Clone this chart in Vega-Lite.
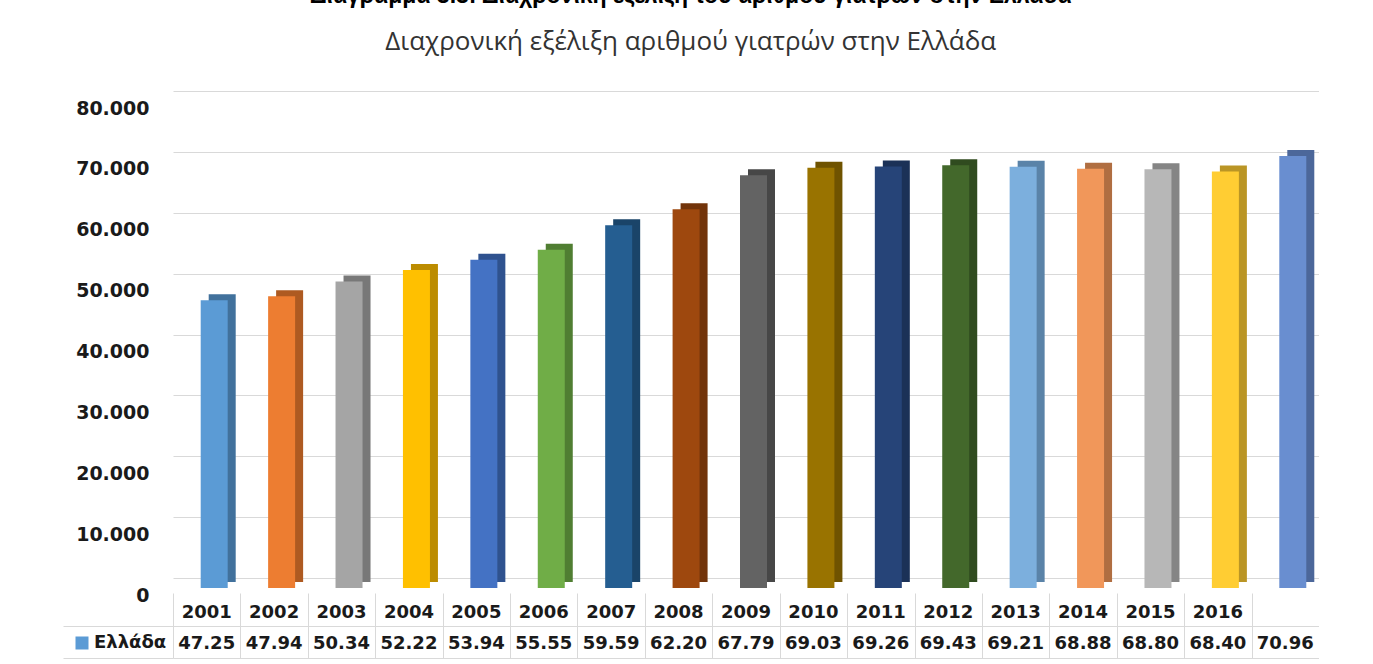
{
  "$schema": "https://vega.github.io/schema/vega-lite/v6.json",
  "padding": {"left": 62, "top": -15, "right": 0, "bottom": 0},
  "background": "white",
  "title": {
    "text": "Διάγραμμα 3.3: Διαχρονική εξέλιξη του αριθμού γιατρών στην Ελλάδα",
    "subtitle": "Διαχρονική εξέλιξη αριθμού γιατρών στην Ελλάδα",
    "font": "Liberation Sans",
    "fontSize": 23,
    "fontWeight": "bold",
    "color": "#000000",
    "subtitleFont": "Open Sans",
    "subtitleFontSize": 26,
    "subtitleColor": "#333333",
    "subtitlePadding": 21,
    "anchor": "middle",
    "offset": 36
  },
  "datasets": {
    "doctors": [
      {"year": "2001", "doctors": 47.25, "series": "Ελλάδα"},
      {"year": "2002", "doctors": 47.94, "series": "Ελλάδα"},
      {"year": "2003", "doctors": 50.34, "series": "Ελλάδα"},
      {"year": "2004", "doctors": 52.22, "series": "Ελλάδα"},
      {"year": "2005", "doctors": 53.94, "series": "Ελλάδα"},
      {"year": "2006", "doctors": 55.55, "series": "Ελλάδα"},
      {"year": "2007", "doctors": 59.59, "series": "Ελλάδα"},
      {"year": "2008", "doctors": 62.20, "series": "Ελλάδα"},
      {"year": "2009", "doctors": 67.79, "series": "Ελλάδα"},
      {"year": "2010", "doctors": 69.03, "series": "Ελλάδα"},
      {"year": "2011", "doctors": 69.26, "series": "Ελλάδα"},
      {"year": "2012", "doctors": 69.43, "series": "Ελλάδα"},
      {"year": "2013", "doctors": 69.21, "series": "Ελλάδα"},
      {"year": "2014", "doctors": 68.88, "series": "Ελλάδα"},
      {"year": "2015", "doctors": 68.80, "series": "Ελλάδα"},
      {"year": "2016", "doctors": 68.40, "series": "Ελλάδα"},
      {"year": "", "doctors": 70.96, "series": "Ελλάδα"}
    ]
  },
  "bounds": "flush",
  "spacing": 15,
  "resolve": {
    "scale": {"x": "independent", "y": "independent", "color": "independent"},
    "legend": {"color": "independent"}
  },
  "vconcat": [
    {
      "width": 1146,
      "height": 487,
      "data": {"name": "doctors"},
      "encoding": {
        "x": {
          "field": "year",
          "type": "nominal",
          "sort": null,
          "scale": {"type": "band", "paddingInner": 0, "paddingOuter": 0},
          "axis": null
        },
        "y": {
          "field": "doctors",
          "type": "quantitative",
          "scale": {"domain": [0, 80]},
          "axis": {
            "values": [0, 10, 20, 30, 40, 50, 60, 70, 80],
            "labelExpr": "datum.value == 0 ? '0' : format(datum.value, '.3f')",
            "title": null,
            "ticks": false,
            "domain": false,
            "grid": true,
            "gridColor": "#D9D9D9",
            "gridWidth": 1,
            "labelFont": "DejaVu Sans",
            "labelFontWeight": "bold",
            "labelFontSize": 19,
            "labelColor": "#1a1a1a",
            "labelPadding": 24,
            "labelOffset": 17,
            "labelFlush": false
          }
        }
      },
      "layer": [
        {
          "mark": {"type": "bar", "width": 27, "xOffset": 15.5, "yOffset": 4, "y2Offset": 4},
          "encoding": {
            "color": {
              "field": "year",
              "type": "nominal",
              "sort": null,
              "legend": null,
              "scale": {
                "domain": ["2001","2002","2003","2004","2005","2006","2007","2008","2009","2010","2011","2012","2013","2014","2015","2016",""],
                "range": ["#41719C","#AE5A21","#787878","#BC8C00","#2F528F","#507E32","#1A4469","#72340A","#474747","#6F5300","#1B3157","#304B1F","#5A83A8","#B06E41","#858585","#BA9525","#4C679A"]
              }
            }
          }
        },
        {
          "mark": {"type": "bar", "width": 27, "xOffset": 7.5, "yOffset": 10, "y2Offset": 10},
          "encoding": {
            "color": {
              "field": "year",
              "type": "nominal",
              "sort": null,
              "legend": null,
              "scale": {
                "domain": ["2001","2002","2003","2004","2005","2006","2007","2008","2009","2010","2011","2012","2013","2014","2015","2016",""],
                "range": ["#5B9BD5","#ED7D31","#A5A5A5","#FFC000","#4472C4","#70AD47","#255E91","#9E480E","#636363","#997300","#264478","#43682B","#7CAFDD","#F1975A","#B7B7B7","#FFCD33","#698ED0"]
              }
            }
          }
        }
      ],
      "resolve": {"scale": {"color": "independent"}}
    },
    {
      "width": 1146,
      "height": 65,
      "data": {"name": "doctors"},
      "encoding": {
        "x": {
          "field": "year",
          "type": "nominal",
          "sort": null,
          "scale": {"type": "band", "paddingInner": 0, "paddingOuter": 0},
          "axis": {
            "labels": false,
            "ticks": false,
            "domain": false,
            "title": null,
            "grid": true,
            "tickBand": "extent",
            "gridColor": "#D9D9D9"
          }
        }
      },
      "layer": [
        {
          "mark": {"type": "text", "font": "DejaVu Sans", "fontWeight": "bold", "fontSize": 18, "color": "#1a1a1a", "dy": 4},
          "encoding": {
            "y": {
              "datum": "yr",
              "type": "nominal",
              "scale": {"type": "band", "domain": ["yr", "val"], "paddingInner": 0, "paddingOuter": 0},
              "axis": {
                "labels": false,
                "domain": false,
                "title": null,
                "ticks": true,
                "tickOffset": 16.25,
                "tickSize": 110,
                "tickColor": "#D9D9D9",
                "grid": true,
                "gridColor": "#D9D9D9"
              }
            },
            "text": {"field": "year", "type": "nominal"}
          }
        },
        {
          "mark": {"type": "text", "font": "DejaVu Sans", "fontWeight": "bold", "fontSize": 18, "color": "#1a1a1a", "dy": 2},
          "encoding": {
            "y": {"datum": "val", "type": "nominal"},
            "text": {"field": "doctors", "type": "quantitative", "format": ".2f"}
          }
        },
        {
          "mark": {"type": "point", "shape": "square", "filled": true, "opacity": 0},
          "encoding": {
            "y": {"datum": "val", "type": "nominal"},
            "color": {
              "field": "series",
              "type": "nominal",
              "scale": {"range": ["#5B9BD5"]},
              "legend": {
                "orient": "none",
                "legendX": -100,
                "legendY": 41,
                "title": null,
                "symbolType": "square",
                "symbolSize": 169,
                "symbolOpacity": 1,
                "symbolStrokeWidth": 0,
                "labelFont": "DejaVu Sans",
                "labelFontWeight": "bold",
                "labelFontSize": 18,
                "labelColor": "#1a1a1a",
                "labelOffset": 3,
                "padding": 0
              }
            }
          }
        }
      ]
    }
  ],
  "config": {"view": {"stroke": null}}
}
